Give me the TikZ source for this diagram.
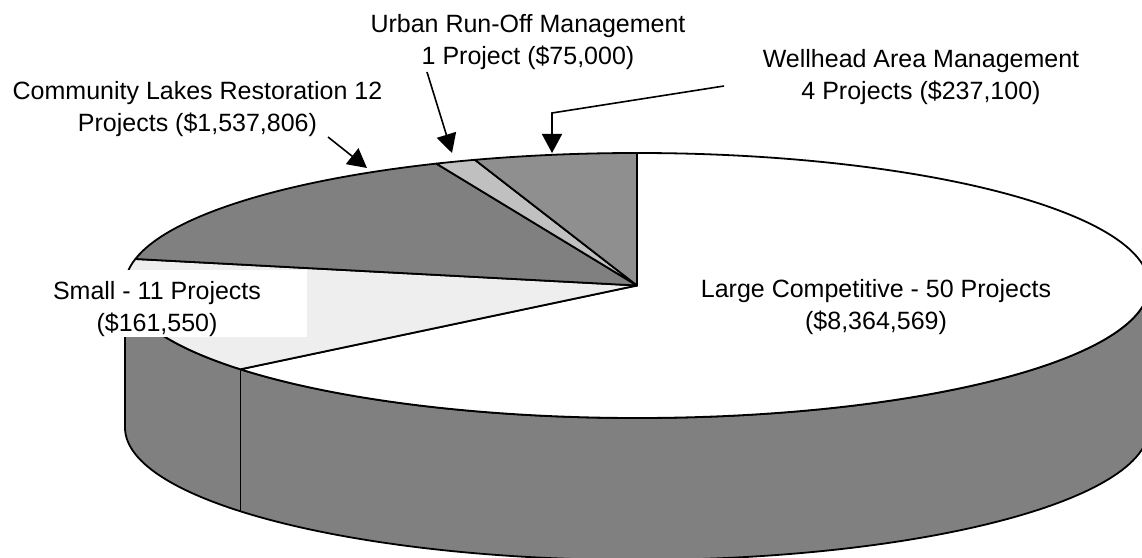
\documentclass[tikz,border=0pt]{standalone}
\usepackage{fontspec}
\setmainfont{Liberation Sans}
\usetikzlibrary{arrows.meta}
\definecolor{lakesfill}{RGB}{128,128,128}
\definecolor{urbanfill}{RGB}{192,192,192}
\definecolor{wellfill}{RGB}{143,143,143}
\definecolor{smallfill}{RGB}{238,238,238}
\definecolor{sidefill}{RGB}{128,128,128}
\tikzset{slice/.style={draw=black,line width=1.8pt,line join=round},
 rim/.style={x radius=512,y radius=132.5},
 callout/.style={-{Triangle[length=19pt,width=20pt]},line width=1.6pt},
 every node/.style={font=\fontsize{25}{32}\selectfont,align=center,inner sep=0pt}}

\begin{document}
\begin{tikzpicture}[x=1pt,y=1pt]
\useasboundingbox (0,0) rectangle (1142,557);
\clip (0,0) rectangle (1142,557);
\begin{scope}[shift={(637,271.5)}]
\coordinate (O) at (0,0);
% side wall
\filldraw[slice,fill=sidefill] (180:512 and 132.5) arc[rim,start angle=180,end angle=360]
  -- ++(0,-142) arc[rim,start angle=360,end angle=180] -- cycle;
\draw[slice] (219.23:512 and 132.5) -- ++(0,-142);
% top of the pie
\filldraw[slice,fill=white] (O) -- (219.23:512 and 132.5) arc[rim,start angle=219.23,end angle=450] -- cycle;
\filldraw[slice,fill=smallfill] (O) -- (168.46:512 and 132.5) arc[rim,start angle=168.46,end angle=219.23] -- cycle;
\filldraw[slice,fill=lakesfill] (O) -- (113.08:512 and 132.5) arc[rim,start angle=113.08,end angle=168.46] -- cycle;
\filldraw[slice,fill=urbanfill] (O) -- (108.46:512 and 132.5) arc[rim,start angle=108.46,end angle=113.08] -- cycle;
\filldraw[slice,fill=wellfill] (O) -- (90:512 and 132.5) arc[rim,start angle=90,end angle=108.46] -- cycle;
% labels
\node (large) at (239,-21.9) {Large Competitive - 50 Projects\\(\$8,364,569)};
\node[fill=white,minimum width=300pt] (small) at (-480,-18) {\rule{0pt}{30pt}Small - 11 Projects\\(\$161,550)};
\node (lakes) at (-439.5,176.1) {Community Lakes Restoration 12\\Projects (\$1,537,806)};
\node (urban) at (-109,243.1) {Urban Run-Off Management\\1 Project (\$75,000)};
\node (well) at (284,208.1) {Wellhead Area Management\\4 Projects (\$237,100)};
% callouts
\coordinate (lakesfrom) at (-309,148.5);
\coordinate (lakestip) at (-270,117.5);
\coordinate (urbanfrom) at (-210,213.5);
\coordinate (urbantip) at (-185,132.5);
\coordinate (wellfrom) at (87,199.5);
\coordinate (wellbend) at (-85,172.5);
\coordinate (welltip) at (-85,132.5);
\draw[callout] (lakesfrom) -- (lakestip);
\draw[callout] (urbanfrom) -- (urbantip);
\draw[callout] (wellfrom) -- (wellbend) -- (welltip);
\end{scope}
\end{tikzpicture}
\end{document}
